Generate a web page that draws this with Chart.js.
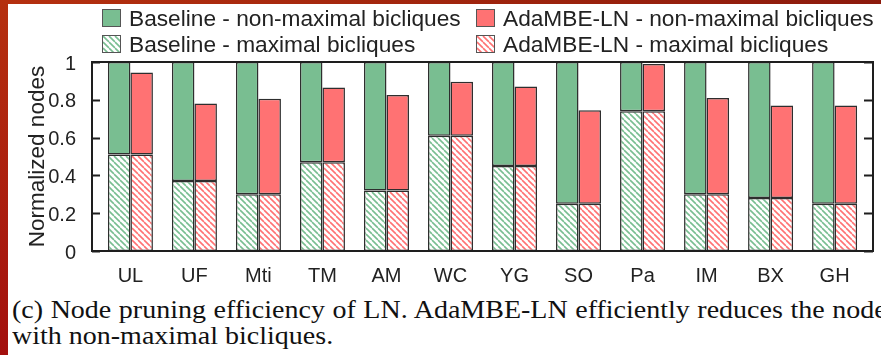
<!DOCTYPE html>
<html>
<head>
<meta charset="utf-8">
<script src="https://cdn.jsdelivr.net/npm/chart.js@4.4.1/dist/chart.umd.min.js"></script>
<style>
  html, body { margin: 0; padding: 0; }
  body { width: 881px; height: 355px; position: relative; overflow: hidden; background: #fff; }
  .strip-top { position: absolute; left: 0; top: 0; width: 881px; height: 4px; background: linear-gradient(to right, #b5300f, #8c1a0c); z-index: 5; }
  .strip-left { position: absolute; left: 0; top: 0; width: 8px; height: 355px; background: linear-gradient(to bottom, #b5300f, #a3100e); z-index: 5; }
  #wrap { position: absolute; left: 0; top: 0; width: 881px; height: 285px; }
  .lg-box { position: absolute; width: 17px; height: 16px; border: 1px solid #555; }
  .lg-box canvas { display: block; }
  .lg-text { position: absolute; font: 22.7px "Liberation Sans", Arial, sans-serif; line-height: 25px; color: #222; white-space: nowrap; }
  .caption { position: absolute; left: 12px; width: 790px; font: 25px "Liberation Serif", "Times New Roman", serif; line-height: 26px; color: #111; white-space: nowrap; transform: scaleX(1.12); transform-origin: left top; }
</style>
</head>
<body>
<div class="strip-top"></div>
<div class="strip-left"></div>
<div id="wrap"><canvas id="chart" width="881" height="285"></canvas></div>
<div id="legend"></div>
<div class="caption" style="top:297px; word-spacing:0.5px">(c) Node pruning efficiency of LN. AdaMBE-LN efficiently reduces the nodes</div>
<div class="caption" style="top:323px">with non-maximal bicliques.</div>
<script>
const categories = ['UL', 'UF', 'Mti', 'TM', 'AM', 'WC', 'YG', 'SO', 'Pa', 'IM', 'BX', 'GH'];
// maximal bicliques share (same for both methods)
const baselineMaximal = [0.51, 0.37, 0.30, 0.47, 0.32, 0.61, 0.45, 0.25, 0.74, 0.30, 0.28, 0.25];
const baselineNonMaximal = [0.49, 0.63, 0.70, 0.53, 0.68, 0.39, 0.55, 0.75, 0.26, 0.70, 0.72, 0.75];
const adaMaximal = [0.51, 0.37, 0.30, 0.47, 0.32, 0.61, 0.45, 0.25, 0.74, 0.30, 0.28, 0.25];
const adaNonMaximal = [0.435, 0.41, 0.505, 0.395, 0.505, 0.285, 0.42, 0.495, 0.25, 0.51, 0.49, 0.52];
const yTicks = [0, 0.2, 0.4, 0.6, 0.8, 1];

const GREEN = '#79be91';
const RED = '#ff7273';
const EDGE = '#2e2e2e';
const FONT = '"Liberation Sans", Arial, sans-serif';

function hatch(color) {
  const s = 6;
  const c = document.createElement('canvas');
  c.width = s; c.height = s;
  const g = c.getContext('2d');
  g.fillStyle = '#fff';
  g.fillRect(0, 0, s, s);
  g.strokeStyle = color;
  g.lineWidth = 1.6;
  for (let k = -1; k <= 1; k++) {
    g.beginPath();
    g.moveTo(k * s, 0);
    g.lineTo(k * s + s, s);
    g.stroke();
  }
  return g.createPattern(c, 'repeat');
}

const pts = arr => arr.map((v, i) => ({ x: i, y: v }));

const datasets = [
  { label: 'Baseline - maximal bicliques', data: pts(baselineMaximal), stack: 'base', backgroundColor: hatch(GREEN) },
  { label: 'Baseline - non-maximal bicliques', data: pts(baselineNonMaximal), stack: 'base', backgroundColor: GREEN },
  { label: 'AdaMBE-LN - maximal bicliques', data: pts(adaMaximal), stack: 'ada', backgroundColor: hatch(RED) },
  { label: 'AdaMBE-LN - non-maximal bicliques', data: pts(adaNonMaximal), stack: 'ada', backgroundColor: RED }
].map(d => Object.assign(d, { borderColor: EDGE, borderWidth: 1.5, borderSkipped: false, categoryPercentage: 0.703, barPercentage: 1 }));

const frame = {
  id: 'frame',
  afterDraw(chart) {
    const { ctx, chartArea: a, scales } = chart;
    ctx.save();
    ctx.strokeStyle = '#1e1e1e';
    ctx.lineWidth = 2;
    yTicks.forEach(v => {
      const py = Math.round(scales.y.getPixelForValue(v)) + 0.5;
      ctx.beginPath();
      ctx.moveTo(a.left, py); ctx.lineTo(a.left + 8, py);
      ctx.moveTo(a.right - 9, py); ctx.lineTo(a.right, py);
      ctx.stroke();
    });
    ctx.strokeRect(a.left, a.top, a.right - a.left, a.bottom - a.top);
    ctx.restore();
  }
};

new Chart(document.getElementById('chart').getContext('2d'), {
  type: 'bar',
  data: { datasets },
  options: {
    responsive: false,
    animation: false,
    layout: { padding: { top: 62, right: 8, left: 0, bottom: 0 } },
    plugins: { legend: { display: false }, tooltip: { enabled: false } },
    scales: {
      x: {
        type: 'linear', min: -0.6, max: 11.6, offset: false,
        grid: { display: false, offset: false }, border: { display: false },
        afterBuildTicks: s => { s.ticks = categories.map((c, i) => ({ value: i })); },
        afterFit: s => { s.height = 34; },
        ticks: { autoSkip: false, maxRotation: 0, padding: 5, color: '#222', font: { family: FONT, size: 20 }, callback: v => categories[v] }
      },
      y: {
        min: 0, max: 1, stacked: true,
        grid: { display: false }, border: { display: false },
        afterBuildTicks: s => { s.ticks = yTicks.map(v => ({ value: v })); },
        afterFit: s => { s.width = 92; },
        ticks: { padding: 8, labelOffset: 2, color: '#222', font: { family: FONT, size: 20 }, callback: v => String(v) },
        title: { display: true, text: 'Normalized nodes', color: '#222', font: { family: FONT, size: 22.5 }, padding: { top: 24, bottom: 0 } }
      }
    }
  },
  plugins: [frame]
});

// legend laid out in two aligned columns like the original figure
const legendItems = [
  { text: 'Baseline - non-maximal bicliques', fill: GREEN, hatched: false, x: 102, y: 9 },
  { text: 'AdaMBE-LN - non-maximal bicliques', fill: RED, hatched: false, x: 476, y: 9 },
  { text: 'Baseline - maximal bicliques', fill: GREEN, hatched: true, x: 102, y: 35 },
  { text: 'AdaMBE-LN - maximal bicliques', fill: RED, hatched: true, x: 476, y: 35 }
];
const legend = document.getElementById('legend');
legendItems.forEach(it => {
  const box = document.createElement('div');
  box.className = 'lg-box';
  box.style.left = it.x + 'px';
  box.style.top = it.y + 'px';
  const c = document.createElement('canvas');
  c.width = 17; c.height = 16;
  const g = c.getContext('2d');
  g.fillStyle = it.hatched ? hatch(it.fill) : it.fill;
  g.fillRect(0, 0, 17, 16);
  box.appendChild(c);
  legend.appendChild(box);
  const t = document.createElement('div');
  t.className = 'lg-text';
  t.textContent = it.text;
  t.style.left = (it.x + 27) + 'px';
  t.style.top = (it.y - 3) + 'px';
  legend.appendChild(t);
});
</script>
</body>
</html>
